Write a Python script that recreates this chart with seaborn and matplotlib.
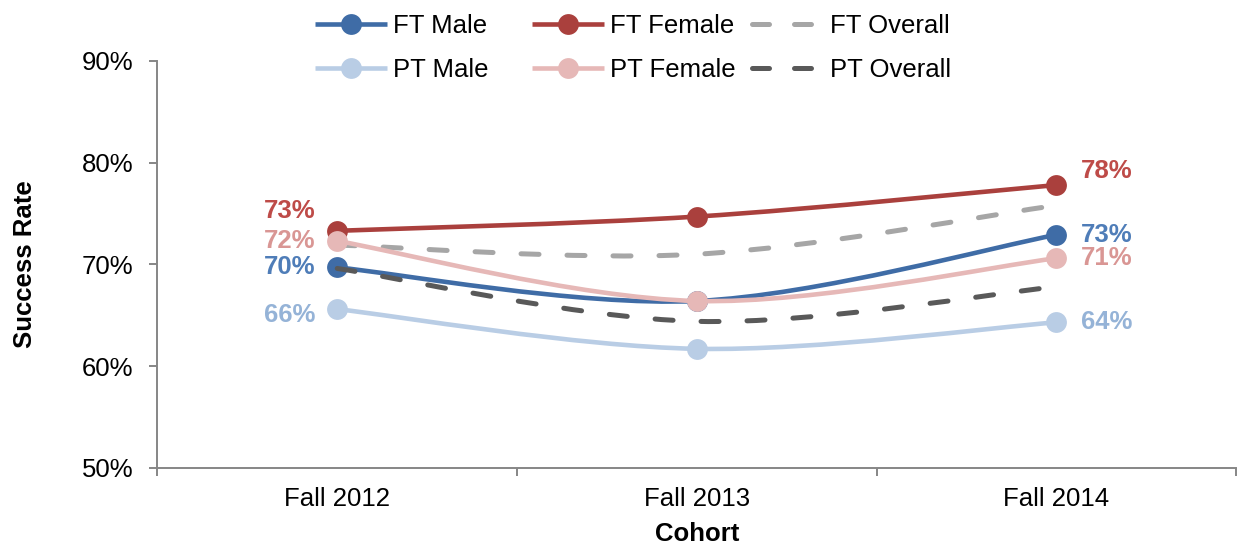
import numpy as np
import pandas as pd
import matplotlib
matplotlib.use('Agg')
import matplotlib.pyplot as plt
import seaborn as sns
from matplotlib.path import Path
from matplotlib.patches import PathPatch
from matplotlib.lines import Line2D
from matplotlib.ticker import PercentFormatter, FixedLocator

# data (percent)
COHORTS = ['Fall 2012', 'Fall 2013', 'Fall 2014']
FT_MALE = [69.7, 66.4, 72.9]
FT_FEMALE = [73.3, 74.7, 77.8]
FT_OVERALL = [71.9, 71.0, 75.8]
PT_MALE = [65.6, 61.7, 64.3]
PT_FEMALE = [72.3, 66.4, 70.6]
PT_OVERALL = [69.6, 64.4, 67.8]

SERIES = {
    'FT Male': FT_MALE,
    'FT Female': FT_FEMALE,
    'FT Overall': FT_OVERALL,
    'PT Male': PT_MALE,
    'PT Female': PT_FEMALE,
    'PT Overall': PT_OVERALL,
}

# styles
LINE_COLORS = {
    'FT Male': '#3F6CA6', 'FT Female': '#AA403D', 'FT Overall': '#A6A6A6',
    'PT Male': '#B9CDE5', 'PT Female': '#E6B8B7', 'PT Overall': '#595959',
}
LABEL_COLORS = {
    'FT Male': '#4F7DB8', 'FT Female': '#BE4B48',
    'PT Male': '#95B3D7', 'PT Female': '#D99694',
}
DASHED = {'FT Overall', 'PT Overall'}
# (dx, dy) in points for the first / last data labels
LABEL_OFFSETS = {
    'FT Male': [(-16, 0), (18, 0)],
    'FT Female': [(-16, 14), (18, 10)],
    'PT Male': [(-16, -4), (18, 0)],
    'PT Female': [(-16, 0), (18, 0)],
}

LW = 3.3
MS = 15
DASH = (3.6, 5.6)
FS = 18.5


def smooth_path(x, y):
    '''
    Excel-like smoothed line through the points as cubic bezier segments
    '''
    pts = np.column_stack([x, y]).astype(float)
    ext = np.vstack([pts[0], pts, pts[-1]])
    verts = [pts[0]]
    codes = [Path.MOVETO]
    for i in range(len(pts) - 1):
        p0, p1, p2, p3 = ext[i], ext[i + 1], ext[i + 2], ext[i + 3]
        verts += [p1 + (p2 - p0) / 6, p2 - (p3 - p1) / 6, p2]
        codes += [Path.CURVE4] * 3
    return Path(verts, codes)


sns.set_theme(style='white')
plt.rcParams['font.family'] = ['Liberation Sans', 'DejaVu Sans']

rows = []
for name, vals in SERIES.items():
    for i, (c, v) in enumerate(zip(COHORTS, vals)):
        rows.append({'series': name, 'cohort': c, 'pos': i + 0.5, 'rate': v})
df = pd.DataFrame(rows)

fig = plt.figure(figsize=(12.39, 5.44), dpi=100)
ax = fig.add_axes([0.1271, 0.140, 0.8705, 0.748])

for z, name in enumerate(SERIES):
    d = df[df['series'] == name]
    color = LINE_COLORS[name]
    if name in DASHED:
        patch = PathPatch(smooth_path(d['pos'], d['rate']), facecolor='none',
                          edgecolor=color, lw=LW + 0.3, linestyle=(0, DASH),
                          capstyle='round', zorder=2 + z)
        ax.add_patch(patch)
    else:
        patch = PathPatch(smooth_path(d['pos'], d['rate']), facecolor='none',
                          edgecolor=color, lw=LW, capstyle='round', zorder=2 + z)
        ax.add_patch(patch)
        sns.scatterplot(data=d, x='pos', y='rate', color=color, s=MS ** 2,
                        linewidth=0, legend=False, ax=ax, zorder=2 + z + 0.5,
                        clip_on=False)
        first, last = d.iloc[0], d.iloc[-1]
        for pt, off, ha in [(first, LABEL_OFFSETS[name][0], 'right'),
                            (last, LABEL_OFFSETS[name][1], 'left')]:
            ax.annotate(f"{pt['rate']:.0f}%", (pt['pos'], pt['rate']),
                        xytext=off, textcoords='offset points', ha=ha, va='center',
                        fontsize=FS, fontweight='bold', color=LABEL_COLORS[name])

ax.set_xlim(0, len(COHORTS))
ax.set_ylim(50, 90)
ax.set_yticks([50, 60, 70, 80, 90])
ax.yaxis.set_major_formatter(PercentFormatter(xmax=100, decimals=0))
ax.set_xticks([i + 0.5 for i in range(len(COHORTS))])
ax.set_xticklabels(COHORTS)
ax.xaxis.set_minor_locator(FixedLocator(range(len(COHORTS) + 1)))

axis_grey = '#868686'
for side in ['top', 'right']:
    ax.spines[side].set_visible(False)
for side in ['left', 'bottom']:
    ax.spines[side].set_color(axis_grey)
    ax.spines[side].set_linewidth(1.4)

ax.tick_params(axis='y', which='major', direction='out', length=5.5, width=1.4,
               color=axis_grey, labelsize=FS, pad=12, left=True, labelcolor='black')
ax.tick_params(axis='x', which='major', length=0, labelsize=FS, pad=14,
               labelcolor='black')
ax.tick_params(axis='x', which='minor', direction='out', length=5.5, width=1.4,
               color=axis_grey, bottom=True)

ax.set_xlabel('Cohort', fontsize=FS, fontweight='bold', labelpad=8, color='black')
ax.set_ylabel('Success Rate', fontsize=FS, fontweight='bold', labelpad=32,
              color='black')

# legend: Excel uses equal-width entries, so one legend per column
handles = {}
for name in SERIES:
    color = LINE_COLORS[name]
    if name in DASHED:
        handles[name] = Line2D([], [], color=color, lw=LW + 0.3, dashes=(3.4, 5.0),
                               dash_capstyle='round')
    else:
        handles[name] = Line2D([], [], color=color, lw=LW, marker='o',
                               markersize=MS, markeredgewidth=0,
                               solid_capstyle='butt')
legend_cols = [['FT Male', 'PT Male'], ['FT Female', 'PT Female'],
               ['FT Overall', 'PT Overall']]
col_x = [315, 532, 752]
for names, x in zip(legend_cols, col_x):
    fig.legend([handles[n] for n in names], names, loc='center left',
               bbox_to_anchor=(x / 1239, 0.9118), frameon=False, fontsize=FS,
               handlelength=2.8, handletextpad=0.23, labelspacing=0.79,
               borderpad=0, borderaxespad=0, labelcolor='black')

fig.savefig('out.png', dpi=100)
